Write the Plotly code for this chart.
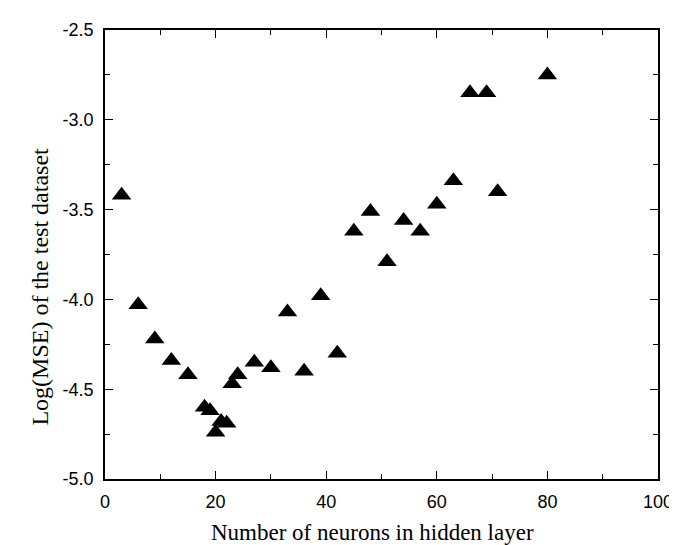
import plotly.graph_objects as go

neurons = [3, 6, 9, 12, 15, 18, 19, 20, 21, 22, 23, 24, 27, 30, 33, 36, 39, 42,
           45, 48, 51, 54, 57, 60, 63, 66, 69, 71, 80]
log_mse = [-3.42, -4.03, -4.22, -4.34, -4.42, -4.60, -4.62, -4.74, -4.68, -4.69,
           -4.47, -4.42, -4.35, -4.38, -4.07, -4.40, -3.98, -4.30,
           -3.62, -3.51, -3.79, -3.56, -3.62, -3.47, -3.34, -2.85, -2.85, -3.40, -2.75]

x_ticks = [0, 20, 40, 60, 80, 100]
y_ticks = [-5.0, -4.5, -4.0, -3.5, -3.0, -2.5]

x_title = "Number of neurons in hidden layer"
y_title = "Log(MSE) of the test dataset"

fig = go.Figure()
fig.add_trace(go.Scatter(
    x=neurons, y=log_mse, mode="markers",
    marker=dict(symbol="triangle-up", size=17, color="black",
                line=dict(width=0)),
    showlegend=False,
))

tick_font = dict(family="Liberation Sans, Arial, sans-serif", size=18, color="black")
title_font = dict(family="Liberation Serif, Times New Roman, serif", size=23, color="black")

fig.update_layout(
    width=677, height=545,
    margin=dict(l=97, r=20, t=18, b=74),
    plot_bgcolor="white", paper_bgcolor="white",
    annotations=[
        dict(text=x_title, xref="paper", yref="paper", x=(202 - 97) / 560, y=(471 - 525) / 453,
             xanchor="left", yanchor="middle", showarrow=False, font=title_font),
        dict(text=y_title, xref="paper", yref="paper", x=(31 - 97) / 560, y=(471 - 277) / 453,
             xanchor="center", yanchor="middle", textangle=-90, showarrow=False,
             font=dict(title_font, size=24)),
    ],
)
fig.update_xaxes(
    range=[0, 100], tickvals=x_ticks, ticktext=[str(v) for v in x_ticks],
    showgrid=False, zeroline=False,
    showline=True, linecolor="black", linewidth=1.5, mirror="ticks",
    ticks="inside", ticklen=8, tickwidth=1.3, tickcolor="black",
    minor=dict(ticks="inside", dtick=10, tick0=0, ticklen=5, tickwidth=1.3, tickcolor="black"),
    tickfont=tick_font, ticklabelstandoff=6,
)
fig.update_yaxes(
    range=[-5.0, -2.5], tickvals=y_ticks, ticktext=[f"{v:.1f}" for v in y_ticks],
    showgrid=False, zeroline=False,
    showline=True, linecolor="black", linewidth=1.5, mirror="ticks",
    ticks="inside", ticklen=8, tickwidth=1.3, tickcolor="black",
    minor=dict(ticks="inside", dtick=0.25, tick0=-5.0, ticklen=5, tickwidth=1.3, tickcolor="black"),
    tickfont=tick_font, ticklabelstandoff=6,
)

fig.write_html("out.html")
